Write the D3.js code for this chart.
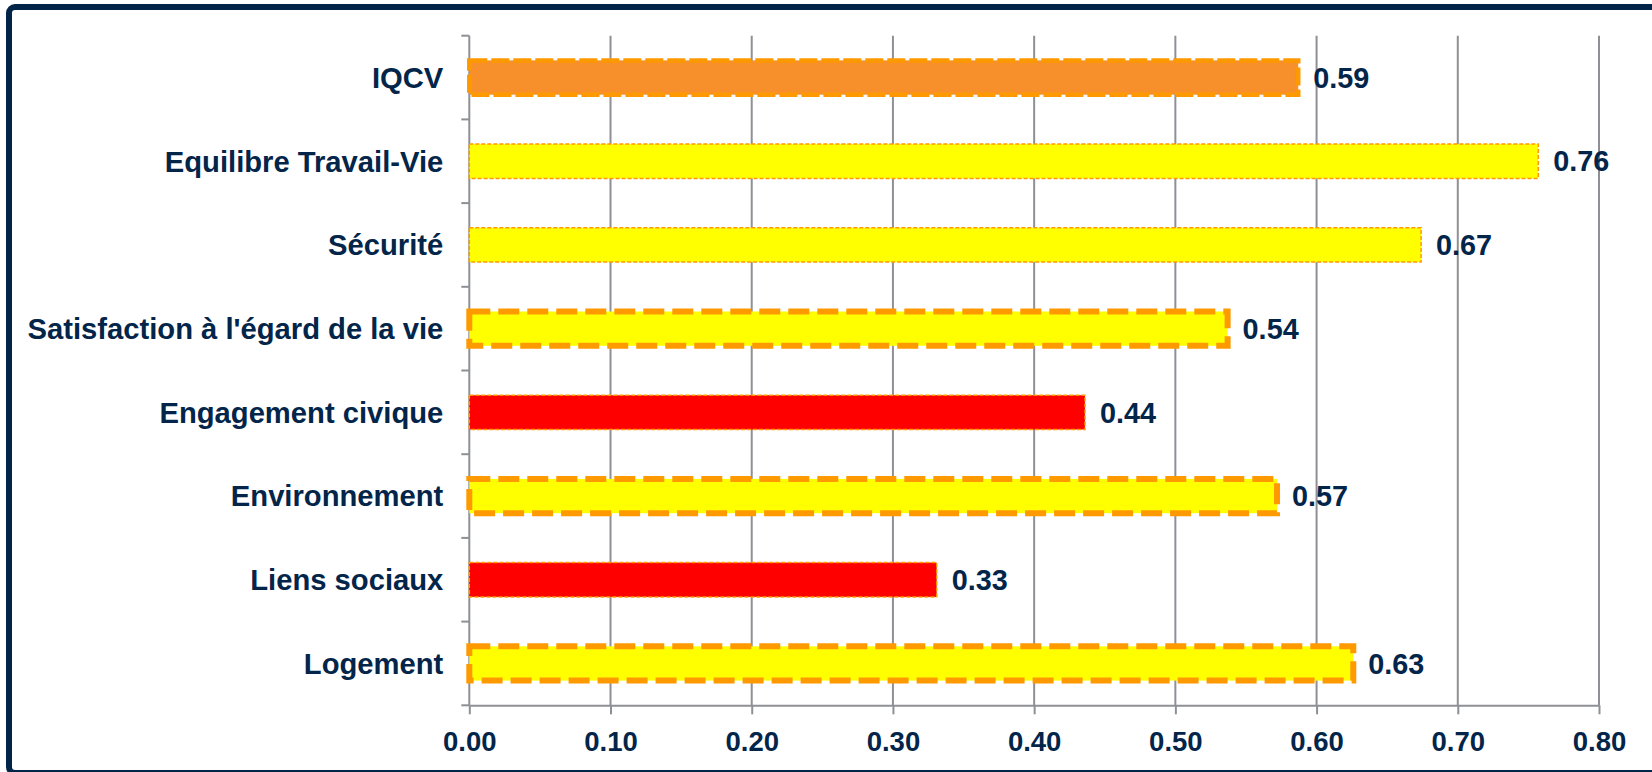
<!DOCTYPE html>
<html>
<head>
<meta charset="utf-8">
<script src="https://cdn.jsdelivr.net/npm/d3@7"></script>
<style>
  html, body { margin: 0; padding: 0; background: #ffffff; }
  svg { display: block; }
  text { font-family: "Liberation Sans", Arial, sans-serif; font-weight: bold; fill: #03254a; }
</style>
</head>
<body>
<svg id="chart" width="1652" height="772"></svg>
<script>
// ---- data ----
const categories = [
  "IQCV",
  "Equilibre Travail-Vie",
  "Sécurité",
  "Satisfaction à l'égard de la vie",
  "Engagement civique",
  "Environnement",
  "Liens sociaux",
  "Logement"
];
const values = [0.587, 0.757, 0.674, 0.537, 0.436, 0.572, 0.331, 0.626];
const ratings = ["index", "good", "good", "mid", "bad", "mid", "bad", "mid"];
const xTickValues = [0, 0.1, 0.2, 0.3, 0.4, 0.5, 0.6, 0.7, 0.8];

// ---- styling per rating ----
const ratingStyle = {
  index: { fill: "#F7902A", stroke: "#FF9900", width: 4.5, dash: "18,4" },
  good:  { fill: "#FFFF00", stroke: "#FF9900", width: 1.5, dash: "4,2" },
  mid:   { fill: "#FFFF00", stroke: "#FF9900", width: 6,   dash: "21,8" },
  bad:   { fill: "#FF0000", stroke: "#FF9900", width: 1.5, dash: "4,2" }
};

const svg = d3.select("#chart");

// frame
svg.append("rect")
  .attr("x", 9).attr("y", 7)
  .attr("width", 1660).attr("height", 766)
  .attr("rx", 6)
  .attr("fill", "#ffffff")
  .attr("stroke", "#002548")
  .attr("stroke-width", 6);

const plot = { left: 469.3, right: 1599, top: 35.7, bottom: 705.3 };

const x = d3.scaleLinear().domain([0, 0.8]).range([plot.left, plot.right]);
const y = d3.scaleBand().domain(categories)
  .range([plot.top, plot.bottom])
  .paddingInner(0.59).paddingOuter(0.295);

const gridColor = "#8e9096";
const fmt = d3.format(".2f");

// vertical gridlines
svg.append("g").selectAll("line")
  .data(xTickValues.filter(d => d > 0))
  .join("line")
  .attr("x1", d => x(d)).attr("x2", d => x(d))
  .attr("y1", plot.top).attr("y2", plot.bottom)
  .attr("stroke", gridColor).attr("stroke-width", 2);

// x axis
const xAxis = d3.axisBottom(x).tickValues(xTickValues).tickFormat(fmt)
  .tickSizeInner(9).tickSizeOuter(0).tickPadding(14);
const gx = svg.append("g").attr("transform", `translate(0,${plot.bottom})`).call(xAxis);
gx.select(".domain").attr("stroke", gridColor).attr("stroke-width", 2);
gx.selectAll(".tick line").attr("stroke", gridColor).attr("stroke-width", 2);
gx.selectAll(".tick text")
  .attr("font-size", 27.5).attr("font-family", null).attr("fill", "#03254a")
  .attr("dy", null).attr("y", 45.5);

// y axis (ticks at band boundaries)
const step = y.step();
const boundaries = d3.range(categories.length + 1).map(i => plot.top + i * step);
const gy = svg.append("g");
gy.append("line")
  .attr("x1", plot.left).attr("x2", plot.left)
  .attr("y1", plot.top).attr("y2", plot.bottom)
  .attr("stroke", gridColor).attr("stroke-width", 2);
gy.selectAll("line.tk").data(boundaries).join("line")
  .attr("class", "tk")
  .attr("x1", plot.left - 8).attr("x2", plot.left)
  .attr("y1", d => d).attr("y2", d => d)
  .attr("stroke", gridColor).attr("stroke-width", 2);
gy.selectAll("text").data(categories).join("text")
  .attr("x", plot.left - 26)
  .attr("y", d => y(d) + y.bandwidth() / 2 + 10.4)
  .attr("text-anchor", "end")
  .attr("font-size", 29.2)
  .text(d => d);

// bars
const data = categories.map((c, i) => ({ c, v: values[i], r: ratings[i] }));
svg.append("g").selectAll("rect").data(data).join("rect")
  .attr("x", x(0))
  .attr("y", d => y(d.c))
  .attr("width", d => x(d.v) - x(0))
  .attr("height", y.bandwidth())
  .attr("fill", d => ratingStyle[d.r].fill)
  .attr("stroke", d => ratingStyle[d.r].stroke)
  .attr("stroke-width", d => ratingStyle[d.r].width)
  .attr("stroke-dasharray", d => ratingStyle[d.r].dash);

// value labels
svg.append("g").selectAll("text").data(data).join("text")
  .attr("x", d => x(d.v) + 15)
  .attr("y", d => y(d.c) + y.bandwidth() / 2 + 10.2)
  .attr("font-size", 28.8)
  .text(d => fmt(d.v));
</script>
</body>
</html>
